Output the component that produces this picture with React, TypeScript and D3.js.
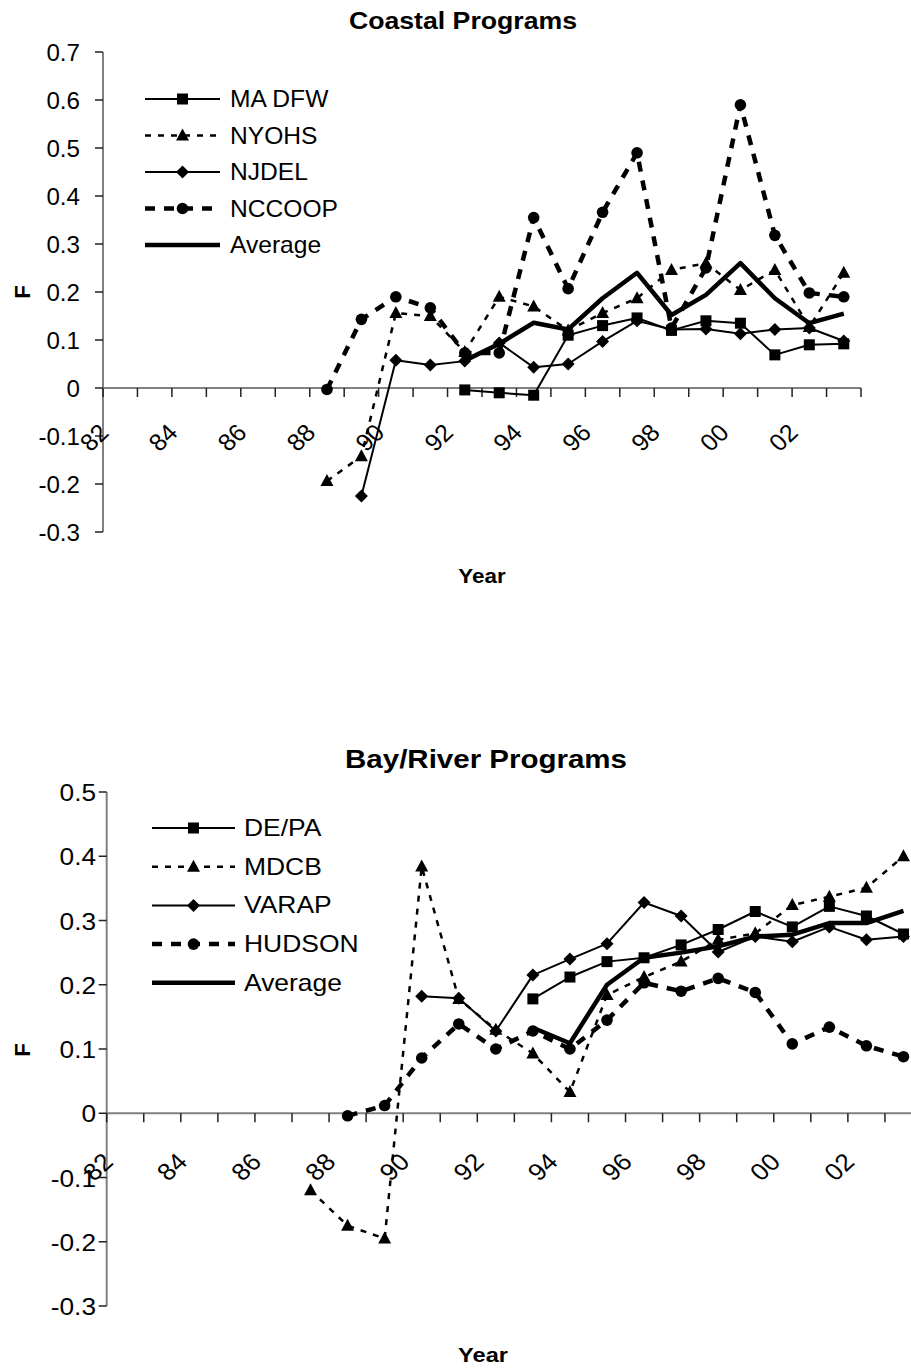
import React from 'react';
import * as d3 from 'd3';

// Year categories (two-digit labels), 1982 through 2003
const years = ['82','83','84','85','86','87','88','89','90','91','92','93','94','95','96','97','98','99','00','01','02','03'];
const tickLabels = years.filter((_, i) => i % 2 === 0);

const N = null;

// Coastal programs
const maDfw = [N,N,N,N,N,N,N,N,N,N,-0.004,-0.01,-0.015,0.11,0.13,0.146,0.12,0.14,0.135,0.069,0.09,0.092];
const nyohs = [N,N,N,N,N,N,-0.194,-0.142,0.156,0.15,0.075,0.19,0.17,0.12,0.156,0.187,0.246,0.26,0.204,0.246,0.127,0.24];
const njdel = [N,N,N,N,N,N,N,-0.225,0.058,0.048,0.056,0.094,0.043,0.05,0.097,0.14,0.122,0.123,0.113,0.122,0.125,0.098];
const nccoop = [N,N,N,N,N,N,-0.003,0.143,0.19,0.167,0.073,0.073,0.355,0.207,0.366,0.49,0.125,0.25,0.59,0.318,0.198,0.19];
const coastalAvg = [N,N,N,N,N,N,N,N,N,N,0.057,0.092,0.136,0.122,0.187,0.24,0.152,0.194,0.26,0.187,0.135,0.155];

// Bay / river programs
const dePa = [N,N,N,N,N,N,N,N,N,N,N,0.178,0.212,0.236,0.242,0.262,0.286,0.314,0.29,0.322,0.307,0.279];
const mdcb = [N,N,N,N,N,-0.12,-0.175,-0.195,0.384,0.178,0.13,0.093,0.033,0.184,0.212,0.236,0.27,0.28,0.324,0.337,0.351,0.4];
const varap = [N,N,N,N,N,N,N,N,0.182,0.179,0.128,0.215,0.24,0.264,0.328,0.307,0.251,0.275,0.267,0.29,0.27,0.275];
const hudson = [N,N,N,N,N,N,-0.004,0.012,0.086,0.139,0.1,0.128,0.1,0.145,0.203,0.19,0.21,0.188,0.108,0.134,0.105,0.088];
const bayAvg = [N,N,N,N,N,N,N,N,N,N,N,0.133,0.109,0.2,0.242,0.25,0.26,0.275,0.278,0.296,0.296,0.315];

const coastalTicks = [0.7,0.6,0.5,0.4,0.3,0.2,0.1,0,-0.1,-0.2,-0.3];
const bayTicks = [0.5,0.4,0.3,0.2,0.1,0,-0.1,-0.2,-0.3];

type Marker = 'square' | 'triangle' | 'diamond' | 'circle' | 'none';
type Style = 'solid' | 'dotted' | 'dashed' | 'thick';

interface Series { name: string; values: (number | null)[]; marker: Marker; style: Style; }

const coastalSeries: Series[] = [
  { name: 'MA DFW', values: maDfw, marker: 'square', style: 'solid' },
  { name: 'NYOHS', values: nyohs, marker: 'triangle', style: 'dotted' },
  { name: 'NJDEL', values: njdel, marker: 'diamond', style: 'solid' },
  { name: 'NCCOOP', values: nccoop, marker: 'circle', style: 'dashed' },
  { name: 'Average', values: coastalAvg, marker: 'none', style: 'thick' },
];

const baySeries: Series[] = [
  { name: 'DE/PA', values: dePa, marker: 'square', style: 'solid' },
  { name: 'MDCB', values: mdcb, marker: 'triangle', style: 'dotted' },
  { name: 'VARAP', values: varap, marker: 'diamond', style: 'solid' },
  { name: 'HUDSON', values: hudson, marker: 'circle', style: 'dashed' },
  { name: 'Average', values: bayAvg, marker: 'none', style: 'thick' },
];

const FONT = "'Liberation Sans', Arial, Helvetica, sans-serif";

function lineAttrs(style: Style) {
  switch (style) {
    case 'dotted': return { strokeWidth: 2.5, strokeDasharray: '6,7' };
    case 'dashed': return { strokeWidth: 4.5, strokeDasharray: '10,9' };
    case 'thick': return { strokeWidth: 4.5 };
    default: return { strokeWidth: 2 };
  }
}

function MarkerShape({ type, x, y }: { type: Marker; x: number; y: number }) {
  if (type === 'none') return null;
  if (type === 'square') return <rect x={x - 5.5} y={y - 5.5} width={11} height={11} fill="#000" />;
  if (type === 'circle') return <circle cx={x} cy={y} r={5.8} fill="#000" />;
  if (type === 'triangle') return <path d={`M${x},${y - 7}L${x + 6.5},${y + 5}L${x - 6.5},${y + 5}Z`} fill="#000" />;
  return <path d={`M${x},${y - 6.5}L${x + 6.5},${y}L${x},${y + 6.5}L${x - 6.5},${y}Z`} fill="#000" />;
}

function Txt(props: { x: number; y: number; size: number; sx?: number; rot?: number; bold?: boolean; anchor?: string; children: React.ReactNode }) {
  const { x, y, size, sx = 1, rot, bold, anchor = 'start', children } = props;
  const tf = `translate(${x},${y}) scale(${sx},1)${rot ? ` rotate(${rot})` : ''}`;
  return (
    <text transform={tf} fontSize={size} fontFamily={FONT} fontWeight={bold ? 'bold' : 'normal'} textAnchor={anchor} fill="#000">
      {children}
    </text>
  );
}

interface ChartCfg {
  title: string;
  titleX: number; titleY: number; titleSize: number; titleSx: number;
  x0: number; x1: number;
  yTop: number; yBottom: number; vMax: number; vMin: number;
  ticks: number[];
  labelRight: number; labelSize: number; labelSx: number;
  xLabelDx: number; xLabelDy: number; xLabelSize: number; xLabelSx: number;
  fX: number; fY: number;
  yearX: number; yearY: number; yearSx: number;
  legendLineX0: number; legendLineX1: number; legendTextX: number; legendY0: number; legendStep: number; legendSize: number; legendSx: number;
  series: Series[];
}

function Chart({ c }: { c: ChartCfg }) {
  const x = d3.scaleBand<string>().domain(years).range([c.x0, c.x1]).padding(0);
  const y = d3.scaleLinear().domain([c.vMin, c.vMax]).range([c.yBottom, c.yTop]);
  const cx = (k: string) => (x(k) as number) + x.bandwidth() / 2;
  const y0 = y(0);

  const line = d3.line<{ k: string; v: number | null }>()
    .defined(d => d.v !== null)
    .x(d => cx(d.k))
    .y(d => y(d.v as number));

  const boundaries = d3.range(years.length + 1).map(i => c.x0 + i * x.bandwidth());
  const legendMid = (c.legendLineX0 + c.legendLineX1) / 2;

  return (
    <g>
      <Txt x={c.titleX} y={c.titleY} size={c.titleSize} sx={c.titleSx} bold anchor="middle">{c.title}</Txt>

      {/* value axis */}
      <line x1={c.x0} x2={c.x0} y1={c.yTop} y2={c.yBottom} stroke="#808080" strokeWidth={2} />
      {c.ticks.map(t => (
        <g key={t}>
          <line x1={c.x0 - 8} x2={c.x0} y1={y(t)} y2={y(t)} stroke="#222" strokeWidth={1.5} />
          <Txt x={c.labelRight} y={y(t) + 9} size={c.labelSize} sx={c.labelSx} anchor="end">{String(t)}</Txt>
        </g>
      ))}

      {/* category axis */}
      <line x1={c.x0} x2={c.x1} y1={y0} y2={y0} stroke="#808080" strokeWidth={2} />
      {boundaries.map((b, i) => (
        <line key={i} x1={b} x2={b} y1={y0} y2={y0 + 9} stroke="#222" strokeWidth={1.5} />
      ))}
      {tickLabels.map(k => (
        <Txt key={k} x={cx(k) + c.xLabelDx} y={y0 + c.xLabelDy} size={c.xLabelSize} sx={c.xLabelSx} rot={-45} anchor="end">{k}</Txt>
      ))}

      <Txt x={c.fX} y={c.fY} size={22} bold rot={-90} anchor="middle">F</Txt>
      <Txt x={c.yearX} y={c.yearY} size={20} sx={c.yearSx} bold anchor="middle">Year</Txt>

      {/* series */}
      {c.series.map(s => {
        const pts = years.map((k, i) => ({ k, v: s.values[i] }));
        return (
          <g key={s.name}>
            <path d={line(pts) || ''} fill="none" stroke="#000" strokeLinejoin="round" {...lineAttrs(s.style)} />
            {pts.filter(p => p.v !== null).map(p => (
              <MarkerShape key={p.k} type={s.marker} x={cx(p.k)} y={y(p.v as number)} />
            ))}
          </g>
        );
      })}

      {/* legend */}
      {c.series.map((s, i) => {
        const ly = c.legendY0 + i * c.legendStep;
        return (
          <g key={s.name}>
            <line x1={c.legendLineX0} x2={c.legendLineX1} y1={ly} y2={ly} stroke="#000" {...lineAttrs(s.style)} />
            <MarkerShape type={s.marker} x={legendMid} y={ly} />
            <Txt x={c.legendTextX} y={ly + 8} size={c.legendSize} sx={c.legendSx}>{s.name}</Txt>
          </g>
        );
      })}
    </g>
  );
}

const coastalCfg: ChartCfg = {
  title: 'Coastal Programs', titleX: 463, titleY: 29, titleSize: 23, titleSx: 1.16,
  x0: 103, x1: 861, yTop: 52, yBottom: 532, vMax: 0.7, vMin: -0.3,
  ticks: coastalTicks, labelRight: 80, labelSize: 23, labelSx: 1.05,
  xLabelDx: -10, xLabelDy: 46, xLabelSize: 24, xLabelSx: 1.05,
  fX: 30, fY: 292, yearX: 482, yearY: 583, yearSx: 1.12,
  legendLineX0: 145, legendLineX1: 220, legendTextX: 230, legendY0: 99, legendStep: 36.5, legendSize: 23, legendSx: 1.07,
  series: coastalSeries,
};

const bayCfg: ChartCfg = {
  title: 'Bay/River Programs', titleX: 486, titleY: 768, titleSize: 25, titleSx: 1.18,
  x0: 106.7, x1: 922, yTop: 792, yBottom: 1306, vMax: 0.5, vMin: -0.3,
  ticks: bayTicks, labelRight: 96, labelSize: 23, labelSx: 1.14,
  xLabelDx: -10.5, xLabelDy: 50, xLabelSize: 24, xLabelSx: 1.1,
  fX: 30, fY: 1050, yearX: 483, yearY: 1362, yearSx: 1.18,
  legendLineX0: 152, legendLineX1: 235, legendTextX: 244, legendY0: 828, legendStep: 38.7, legendSize: 23, legendSx: 1.15,
  series: baySeries,
};

export default function App() {
  return (
    <svg width={911} height={1368} viewBox="0 0 911 1368"
      style={{ position: 'absolute', left: 0, top: 0, background: '#fff' }}>
      <rect width={911} height={1368} fill="#fff" />
      <Chart c={coastalCfg} />
      <Chart c={bayCfg} />
    </svg>
  );
}
